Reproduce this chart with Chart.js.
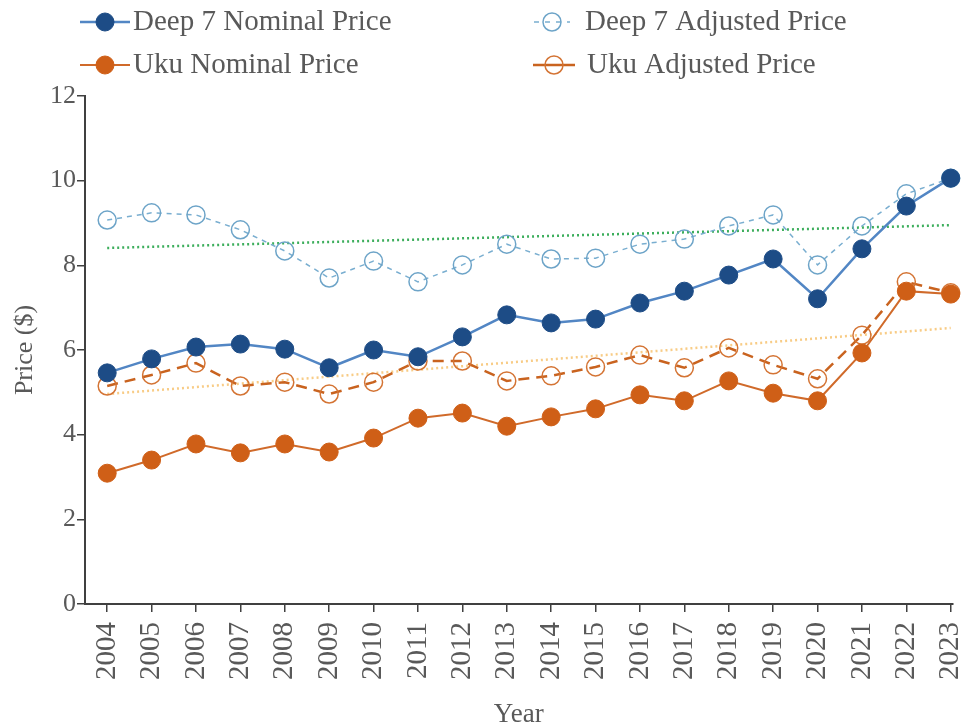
<!DOCTYPE html>
<html>
<head>
<meta charset="utf-8">
<script src="https://cdn.jsdelivr.net/npm/chart.js@4"></script>
<style>
  body { margin: 0; background: #fff; }
  #wrap { width: 963px; height: 728px; }
</style>
</head>
<body>
<div id="wrap"><canvas id="price-chart"></canvas></div>
<script>
// data
const years = [2004, 2005, 2006, 2007, 2008, 2009, 2010, 2011, 2012, 2013,
               2014, 2015, 2016, 2017, 2018, 2019, 2020, 2021, 2022, 2023];
const deep7Nominal  = [5.46, 5.79, 6.07, 6.14, 6.02, 5.58, 6.00, 5.84, 6.31, 6.83,
                       6.64, 6.73, 7.11, 7.39, 7.77, 8.15, 7.21, 8.39, 9.40, 10.06];
const deep7Adjusted = [9.07, 9.24, 9.19, 8.84, 8.34, 7.70, 8.10, 7.61, 8.01, 8.50,
                       8.15, 8.17, 8.50, 8.62, 8.93, 9.19, 8.01, 8.93, 9.69, 10.06];
const ukuNominal    = [3.09, 3.40, 3.78, 3.57, 3.78, 3.59, 3.92, 4.39, 4.51, 4.20,
                       4.42, 4.61, 4.94, 4.80, 5.27, 4.98, 4.80, 5.93, 7.39, 7.32];
const ukuAdjusted   = [5.15, 5.41, 5.69, 5.15, 5.24, 4.96, 5.24, 5.74, 5.74, 5.27,
                       5.39, 5.60, 5.88, 5.58, 6.05, 5.65, 5.32, 6.35, 7.61, 7.35];
// trend line end points (2004 and 2023)
const trendYears = [2004, 2023];
const deep7Trend = [8.41, 8.95];
const ukuTrend   = [4.96, 6.52];
const yTicks = [0, 2, 4, 6, 8, 10, 12];

const FONT = "'Liberation Serif', 'Times New Roman', serif";
const TEXT = "#595959";

const pts = (xs, ys) => xs.map((x, i) => ({ x: x, y: ys[i] }));

// legend drawn at fixed spots, 2 x 2 like the picture
const legendSpots = [
  { ds: 0, x1: 80, x2: 130, tx: 133, y: 22 },
  { ds: 1, x1: 534, x2: 570, tx: 585, y: 22 },
  { ds: 2, x1: 80, x2: 130, tx: 133, y: 65 },
  { ds: 3, x1: 533, x2: 575, tx: 587, y: 65 },
];
const gridLegend = {
  id: "gridLegend",
  afterDraw(chart) {
    const ctx = chart.ctx;
    ctx.save();
    legendSpots.forEach(s => {
      const d = chart.data.datasets[s.ds];
      ctx.strokeStyle = d.borderColor;
      ctx.lineWidth = d.borderWidth;
      ctx.setLineDash(d.legendDash || []);
      ctx.beginPath();
      ctx.moveTo(s.x1, s.y);
      ctx.lineTo(s.x2, s.y);
      ctx.stroke();
      ctx.setLineDash([]);
      ctx.beginPath();
      ctx.arc((s.x1 + s.x2) / 2, s.y, d.pointRadius, 0, Math.PI * 2);
      ctx.fillStyle = d.legendFill;
      ctx.fill();
      ctx.lineWidth = d.pointBorderWidth;
      ctx.strokeStyle = d.pointBorderColor;
      ctx.stroke();
      ctx.fillStyle = TEXT;
      ctx.font = "29px " + FONT;
      ctx.textBaseline = "middle";
      ctx.fillText(d.label, s.tx, s.y);
    });
    ctx.restore();
  }
};

new Chart(document.getElementById("price-chart"), {
  type: "line",
  data: {
    datasets: [
      {
        label: "Deep 7 Nominal Price",
        data: pts(years, deep7Nominal),
        borderColor: "#5286c4",
        borderWidth: 2.5,
        pointRadius: 9,
        pointBackgroundColor: "#1d4c86",
        pointBorderColor: "#1d4c86",
        pointBorderWidth: 1,
        legendFill: "#1d4c86",
        clip: false,
      },
      {
        label: "Deep 7 Adjusted Price",
        data: pts(years, deep7Adjusted),
        borderColor: "#79aed0",
        borderWidth: 1.5,
        borderDash: [5, 5],
        legendDash: [5, 6],
        pointRadius: 9,
        pointBackgroundColor: "rgba(255,255,255,0)",
        pointBorderColor: "#6da4c8",
        pointBorderWidth: 1.5,
        legendFill: "rgba(255,255,255,0)",
        clip: false,
      },
      {
        label: "Uku Nominal Price",
        data: pts(years, ukuNominal),
        borderColor: "#d06a2a",
        borderWidth: 2,
        pointRadius: 9,
        pointBackgroundColor: "#cf5f17",
        pointBorderColor: "#cf5f17",
        pointBorderWidth: 1,
        legendFill: "#cf5f17",
        clip: false,
      },
      {
        label: "Uku Adjusted Price",
        data: pts(years, ukuAdjusted),
        borderColor: "#c9631f",
        borderWidth: 2.5,
        borderDash: [11, 7],
        pointRadius: 9,
        pointBackgroundColor: "rgba(255,255,255,0)",
        pointBorderColor: "#d47434",
        pointBorderWidth: 1.5,
        legendFill: "rgba(255,255,255,0)",
        clip: false,
      },
      {
        label: "Deep 7 trend",
        data: pts(trendYears, deep7Trend),
        borderColor: "#3dae5c",
        borderWidth: 2.5,
        borderDash: [2, 3],
        pointRadius: 0,
        clip: false,
      },
      {
        label: "Uku trend",
        data: pts(trendYears, ukuTrend),
        borderColor: "#f8cc86",
        borderWidth: 2.5,
        borderDash: [2, 3],
        pointRadius: 0,
        clip: false,
      },
    ],
  },
  options: {
    responsive: true,
    maintainAspectRatio: false,
    animation: false,
    layout: { padding: { top: 96, right: 0, left: 0, bottom: 0 } },
    plugins: {
      legend: { display: false },
      tooltip: { enabled: false },
    },
    scales: {
      x: {
        type: "linear",
        min: 2003.5,
        max: 2023.04,
        afterBuildTicks: (axis) => { axis.ticks = years.map(v => ({ value: v })); },
        afterFit: (axis) => {
          axis.height = 124;
          axis.paddingRight = 0;
          axis.paddingLeft = 0;
        },
        border: { display: true, color: "#404040", width: 2 },
        grid: { drawOnChartArea: false, tickLength: 8, color: "#404040", lineWidth: 1.5 },
        ticks: {
          autoSkip: false,
          minRotation: 90,
          maxRotation: 90,
          padding: 10,
          color: TEXT,
          font: { family: FONT, size: 29 },
          callback: (v) => String(v),
        },
        title: {
          display: true,
          text: "Year",
          color: TEXT,
          font: { family: FONT, size: 27, lineHeight: 1.0 },
          padding: { top: 0, bottom: 0 },
        },
      },
      y: {
        min: 0,
        max: 12,
        afterBuildTicks: (axis) => { axis.ticks = yTicks.map(v => ({ value: v })); },
        afterFit: (axis) => { axis.width = 85; },
        border: { display: true, color: "#404040", width: 2 },
        grid: { drawOnChartArea: false, tickLength: 8, color: "#404040", lineWidth: 1.5 },
        ticks: {
          padding: 1,
          color: TEXT,
          font: { family: FONT, size: 26 },
        },
        title: {
          display: true,
          text: "Price ($)",
          color: TEXT,
          font: { family: FONT, size: 26 },
          padding: { top: 10, bottom: 0 },
        },
      },
    },
  },
  plugins: [gridLegend],
});
</script>
</body>
</html>
